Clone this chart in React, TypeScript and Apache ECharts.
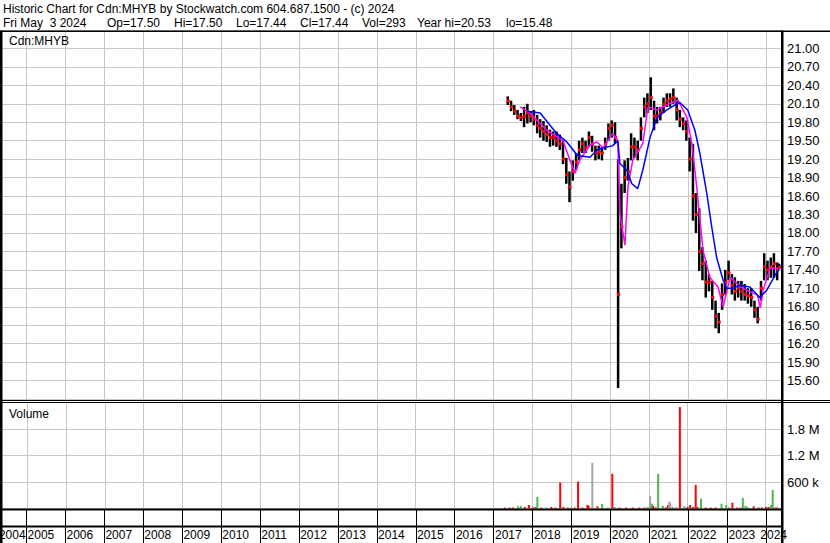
import React, { useEffect, useRef } from 'react';
import * as echarts from 'echarts';

const FONT = '"Liberation Sans", Arial, Helvetica, sans-serif';

const titleLine1 = 'Historic Chart for Cdn:MHYB by Stockwatch.com 604.687.1500 - (c) 2024';
const titleLine2Parts = ['Fri May  3 2024', 'Op=17.50', 'Hi=17.50', 'Lo=17.44', 'Cl=17.44', 'Vol=293', 'Year hi=20.53', 'lo=15.48'];
const pricePanelLabel = 'Cdn:MHYB';
const volumePanelLabel = 'Volume';

const xStart = '2004-05-20';
const xEnd = '2024-05-30';
const yearLabels = [2004, 2005, 2006, 2007, 2008, 2009, 2010, 2011, 2012, 2013, 2014, 2015, 2016, 2017, 2018, 2019, 2020, 2021, 2022, 2023, 2024];

const priceDates = [
  '2017-05-15', '2017-06-15', '2017-07-15', '2017-08-15', '2017-09-15', '2017-10-15', '2017-11-15', '2017-12-15',
  '2018-01-15', '2018-02-15', '2018-03-15', '2018-04-15', '2018-05-15', '2018-06-15', '2018-07-15', '2018-08-15', '2018-09-15', '2018-10-15', '2018-11-15', '2018-12-15',
  '2019-01-15', '2019-02-15', '2019-03-15', '2019-04-15', '2019-05-15', '2019-06-15', '2019-07-15', '2019-08-15', '2019-09-15', '2019-10-15', '2019-11-15', '2019-12-15',
  '2020-01-15', '2020-02-15', '2020-03-15', '2020-04-15', '2020-05-15', '2020-06-15', '2020-07-15', '2020-08-15', '2020-09-15', '2020-10-15', '2020-11-15', '2020-12-15',
  '2021-01-15', '2021-02-15', '2021-03-15', '2021-04-15', '2021-05-15', '2021-06-15', '2021-07-15', '2021-08-15', '2021-09-15', '2021-10-15', '2021-11-15', '2021-12-15',
  '2022-01-15', '2022-02-15', '2022-03-15', '2022-04-15', '2022-05-15', '2022-06-15', '2022-07-15', '2022-08-15', '2022-09-15', '2022-10-15', '2022-11-15', '2022-12-15',
  '2023-01-15', '2023-02-15', '2023-03-15', '2023-04-15', '2023-05-15', '2023-06-15', '2023-07-15', '2023-08-15', '2023-09-15', '2023-10-15', '2023-11-15', '2023-12-15',
  '2024-01-15', '2024-02-15', '2024-03-15', '2024-04-15', '2024-05-03',
];
const priceHigh = [
  20.22, 20.15, 20.08, 20.0, 19.95, 20.05, 20.1, 19.98,
  20.0, 19.92, 19.85, 19.82, 19.75, 19.68, 19.65, 19.65, 19.6, 19.5, 19.22, 19.0,
  19.18, 19.3, 19.5, 19.55, 19.5, 19.65, 19.58, 19.42, 19.42, 19.4, 19.55, 19.78,
  19.83, 19.8, 19.2, 18.8, 19.18, 19.22, 19.62, 19.55, 19.5, 19.88, 20.2, 20.27,
  20.53, 20.15, 20.05, 20.05, 20.2, 20.27, 20.27, 20.35, 20.2, 20.0, 19.88, 19.83,
  19.55, 19.45, 18.65, 18.4, 17.77, 17.55, 17.33, 17.22, 16.9, 16.7, 17.18, 17.4,
  17.55, 17.33, 17.28, 17.22, 17.22, 17.17, 17.1, 17.1, 16.9, 16.8, 17.22, 17.67,
  17.55, 17.6, 17.67, 17.52, 17.5,
];
const priceLow = [
  20.08, 19.98, 19.92, 19.85, 19.82, 19.72, 19.78, 19.8,
  19.75, 19.62, 19.55, 19.5, 19.48, 19.4, 19.42, 19.4, 19.35, 19.12, 18.8, 18.5,
  18.85, 19.02, 19.18, 19.3, 19.3, 19.4, 19.32, 19.18, 19.2, 19.18, 19.35, 19.5,
  19.55, 19.45, 15.48, 17.75, 18.65, 18.85, 19.18, 19.22, 19.18, 19.5, 19.88, 19.95,
  20.0, 19.67, 19.78, 19.83, 19.95, 20.05, 20.05, 20.1, 19.83, 19.72, 19.67, 19.5,
  19.0, 18.2, 18.0, 17.38, 17.23, 16.95, 17.05, 16.75, 16.45, 16.37, 16.75, 17.0,
  17.23, 17.0, 16.9, 16.95, 16.9, 16.9, 16.85, 16.8, 16.62, 16.53, 16.9, 17.23,
  17.23, 17.27, 17.27, 17.23, 17.44,
];
const priceClose = [
  20.15, 20.05, 19.98, 19.9, 19.88, 19.9, 19.95, 19.9,
  19.85, 19.75, 19.7, 19.65, 19.6, 19.55, 19.55, 19.5, 19.45, 19.2, 18.95, 18.75,
  19.0, 19.15, 19.35, 19.45, 19.38, 19.55, 19.45, 19.3, 19.32, 19.3, 19.45, 19.7,
  19.75, 19.55, 17.0, 18.1, 18.9, 19.0, 19.4, 19.4, 19.35, 19.7, 20.05, 20.1,
  20.2, 19.9, 19.9, 19.95, 20.1, 20.15, 20.18, 20.2, 20.0, 19.85, 19.78, 19.65,
  19.2, 18.6, 18.3, 17.7, 17.5, 17.2, 17.2, 16.95, 16.65, 16.55, 17.0, 17.2,
  17.35, 17.15, 17.05, 17.1, 17.05, 17.0, 16.98, 16.95, 16.75, 16.6, 17.1, 17.45,
  17.4, 17.45, 17.5, 17.4, 17.44,
];

const shortMaDates = [
  '2017-09-10', '2017-12-10', '2018-05-15', '2018-10-15', '2018-12-20', '2019-02-05', '2019-03-20', '2019-06-25',
  '2019-08-30', '2019-10-25', '2020-01-25', '2020-03-12', '2020-04-01', '2020-05-18', '2020-06-15', '2020-07-30',
  '2020-11-01', '2020-12-20', '2021-03-15', '2021-07-15', '2021-09-28', '2021-12-20', '2022-02-05', '2022-03-22',
  '2022-05-20', '2022-07-22', '2022-10-08', '2022-11-25', '2023-01-30', '2023-05-05', '2023-10-12', '2023-11-08',
  '2023-12-05', '2024-02-08', '2024-05-03',
];
const shortMaValues = [
  20.05, 19.95, 19.67, 19.5, 19.18, 18.97, 19.18, 19.43,
  19.48, 19.38, 19.62, 19.5, 18.32, 17.8, 18.75, 19.18,
  19.45, 20.05, 20.0, 20.11, 20.16, 19.88, 19.45, 18.75,
  17.72, 17.28, 17.12, 16.8, 17.28, 17.12, 16.99, 16.78,
  17.07, 17.43, 17.42,
];

const longMaDates = [
  '2017-11-15', '2018-03-15', '2018-08-15', '2018-11-20', '2019-03-01', '2019-06-25', '2019-08-30', '2019-10-25',
  '2020-01-25', '2020-03-12', '2020-04-01', '2020-06-05', '2020-07-22', '2020-09-15', '2020-11-01', '2021-01-08',
  '2021-03-15', '2021-06-15', '2021-08-28', '2021-10-15', '2021-12-28', '2022-03-05', '2022-04-20', '2022-06-25',
  '2022-08-10', '2022-09-25', '2022-11-25', '2022-12-28', '2023-02-25', '2023-05-01', '2023-08-03', '2023-11-03',
  '2024-01-08', '2024-04-08', '2024-05-03',
];
const longMaValues = [
  19.98, 19.95, 19.62, 19.48, 19.26, 19.23, 19.35, 19.38,
  19.42, 19.5, 19.13, 19.02, 18.8, 18.72, 19.02, 19.55,
  19.88, 20.0, 20.08, 20.12, 20.0, 19.67, 19.3, 18.64,
  18.1, 17.6, 17.23, 17.1, 17.1, 17.15, 17.12, 16.95,
  17.07, 17.35, 17.42,
];

const volDates = [
  '2017-04-20', '2017-06-05', '2017-07-05', '2017-08-22', '2017-09-17', '2017-10-24', '2017-12-02', '2018-01-10',
  '2018-02-03', '2018-02-20', '2018-03-28', '2018-05-15', '2018-07-01', '2018-08-10', '2018-09-23', '2018-10-23',
  '2018-12-02', '2019-01-05', '2019-02-06', '2019-03-10', '2019-04-22', '2019-06-06', '2019-06-18', '2019-07-22',
  '2019-09-08', '2019-10-22', '2019-12-14', '2020-01-26', '2020-02-17', '2020-04-01', '2020-06-03', '2020-08-04',
  '2020-10-05', '2020-11-24', '2020-12-25', '2021-01-15', '2021-01-30', '2021-02-13', '2021-03-10', '2021-04-01',
  '2021-05-15', '2021-06-13', '2021-07-02', '2021-07-14', '2021-07-23', '2021-08-13', '2021-09-20', '2021-10-22',
  '2021-12-02', '2022-01-02', '2022-01-27', '2022-02-24', '2022-03-20', '2022-04-05', '2022-05-09', '2022-06-22',
  '2022-08-07', '2022-09-23', '2022-11-18', '2023-01-01', '2023-01-26', '2023-02-28', '2023-04-12', '2023-05-15',
  '2023-06-06', '2023-07-01', '2023-07-19', '2023-09-16', '2023-11-02', '2023-12-02', '2024-01-11', '2024-02-04',
  '2024-02-28', '2024-03-13', '2024-04-07', '2024-04-26',
];
const volValues = [
  15000, 18000, 25000, 50000, 60000, 34000, 80000, 18000,
  34000, 262000, 15000, 18000, 34000, 12000, 588000, 34000,
  15000, 18000, 12000, 610000, 12000, 80000, 60000, 1036000,
  50000, 102000, 18000, 786000, 34000, 15000, 12000, 12000,
  12000, 15000, 34000, 285000, 110000, 60000, 25000, 786000,
  60000, 25000, 80000, 155000, 130000, 34000, 18000, 2296000,
  50000, 34000, 80000, 34000, 535000, 34000, 223000, 18000,
  12000, 12000, 109000, 80000, 18000, 132000, 15000, 18000,
  239000, 60000, 34000, 50000, 15000, 18000, 34000, 34000,
  80000, 421000, 18000, 12000,
];
// u = up day (green), d = down day (red), n = unchanged (grey)
const volDirs = [
  'd', 'd', 'd', 'u', 'u', 'd', 'd', 'd',
  'd', 'u', 'd', 'u', 'd', 'd', 'd', 'd',
  'd', 'u', 'd', 'd', 'd', 'd', 'd', 'n',
  'd', 'u', 'u', 'd', 'u', 'd', 'd', 'd',
  'd', 'd', 'u', 'n', 'u', 'd', 'd', 'u',
  'u', 'd', 'd', 'n', 'n', 'u', 'd', 'd',
  'u', 'd', 'd', 'd', 'd', 'd', 'u', 'd',
  'd', 'd', 'u', 'u', 'd', 'd', 'd', 'd',
  'u', 'u', 'u', 'd', 'd', 'd', 'd', 'd',
  'u', 'u', 'd', 'd',
];

const volTickValues = [600000, 1200000, 1800000];
const volTickLabels = ['600 k', '1.2 M', '1.8 M'];

const GRID_GRAY = '#c8c8c8';
const dirColor: Record<string, string> = { u: '#4cb84c', d: '#ff0000', n: '#a6a6a6' };
const titleLine2X = [3, 107, 174, 236, 300, 362, 417, 506];

function yearLineSeries(idx: number) {
  return {
    type: 'custom',
    xAxisIndex: idx,
    yAxisIndex: idx,
    clip: true,
    silent: true,
    z: 1,
    data: yearLabels.map((y) => [`${y}-01-01`, 0]),
    renderItem: (params: any, api: any) => {
      const cs = params.coordSys;
      const x = Math.round(api.coord([api.value(0), api.value(1)])[0]) + 0.5;
      return {
        type: 'line',
        shape: { x1: x, y1: cs.y, x2: x, y2: cs.y + cs.height },
        style: { stroke: GRID_GRAY, lineWidth: 1 },
      };
    },
  };
}

export default function App() {
  const ref = useRef<HTMLDivElement>(null);

  useEffect(() => {
    if (!ref.current) return;
    const chart = echarts.init(ref.current, undefined, { renderer: 'svg' });

    const priceData = priceDates.map((d, i) => [d, priceHigh[i], priceLow[i], priceClose[i]]);
    const volData = volDates.map((d, i) => ({
      value: [d, volValues[i]],
      itemStyle: { color: dirColor[volDirs[i]] },
    }));

    const textStyle = (text: string) => ({
      text,
      fill: '#000',
      fontSize: 12,
      fontFamily: FONT,
      verticalAlign: 'middle',
    });

    const option: any = {
      animation: false,
      backgroundColor: '#ffffff',
      grid: [
        { left: 2, top: 30, width: 780, height: 369 },
        { left: 2, top: 402.5, width: 780, height: 106 },
        { left: 2, top: 510, width: 780, height: 33 },
      ],
      xAxis: [0, 1, 2].map((i) => ({
        type: 'time',
        gridIndex: i,
        min: xStart,
        max: xEnd,
        show: false,
      })),
      yAxis: [
        {
          type: 'value',
          gridIndex: 0,
          position: 'right',
          min: 15.3,
          max: 21.3,
          interval: 0.3,
          axisLine: { show: false },
          axisTick: { show: false },
          axisLabel: {
            margin: 5,
            color: '#000',
            fontSize: 13,
            fontFamily: FONT,
            formatter: (v: number) => (v < 15.5 || v > 21.1 ? '' : v.toFixed(2)),
          },
          splitLine: { lineStyle: { color: GRID_GRAY, width: 1 } },
        },
        {
          type: 'value',
          gridIndex: 1,
          position: 'right',
          min: 0,
          max: 2400000,
          interval: 600000,
          axisLine: { show: false },
          axisTick: { show: false },
          axisLabel: {
            margin: 5,
            color: '#000',
            fontSize: 13,
            fontFamily: FONT,
            formatter: (v: number) => {
              const k = volTickValues.indexOf(Math.round(v));
              return k >= 0 ? volTickLabels[k] : '';
            },
          },
          splitLine: { lineStyle: { color: GRID_GRAY, width: 1 } },
        },
        { type: 'value', gridIndex: 2, min: 0, max: 1, show: false },
      ],
      series: [
        yearLineSeries(0),
        yearLineSeries(1),
        {
          type: 'custom',
          xAxisIndex: 2,
          yAxisIndex: 2,
          clip: false,
          silent: true,
          z: 5,
          data: yearLabels.map((y) => [`${y}-01-01`, 0, y]),
          renderItem: (params: any, api: any) => {
            const cs = params.coordSys;
            const right = cs.x + cs.width;
            const yr = api.value(2);
            const x0 = api.coord([`${yr}-01-01`, 0])[0];
            const x1 = api.coord([`${yr + 1}-01-01`, 0])[0];
            const xl = Math.round(x0) + 0.5;
            let label: { x: number; align: string };
            if (x0 < cs.x) label = { x: x1 - 0.5, align: 'right' };
            else if (x1 > right) label = { x: right + 5, align: 'right' };
            else label = { x: x0 + 1.5, align: 'left' };
            const children: any[] = [
              {
                type: 'text',
                x: label.x,
                y: cs.y + 24.5,
                style: {
                  text: String(yr),
                  fill: '#000',
                  fontSize: 12,
                  fontFamily: FONT,
                  align: label.align,
                  verticalAlign: 'middle',
                },
              },
            ];
            if (x0 >= cs.x) {
              children.push({
                type: 'line',
                shape: { x1: xl, y1: cs.y, x2: xl, y2: cs.y + cs.height },
                style: { stroke: '#000', lineWidth: 1 },
              });
            }
            return { type: 'group', children };
          },
        },
        {
          type: 'custom',
          xAxisIndex: 0,
          yAxisIndex: 0,
          clip: true,
          z: 3,
          encode: { x: 0, y: [1, 2, 3] },
          data: priceData,
          renderItem: (params: any, api: any) => {
            const hi = api.coord([api.value(0), api.value(1)]);
            const lo = api.coord([api.value(0), api.value(2)]);
            const cl = api.coord([api.value(0), api.value(3)]);
            return {
              type: 'group',
              children: [
                {
                  type: 'line',
                  shape: { x1: hi[0], y1: hi[1], x2: lo[0], y2: lo[1] },
                  style: { stroke: '#000', lineWidth: 2.5 },
                },
                {
                  type: 'rect',
                  shape: { x: cl[0] - 1, y: cl[1] - 1.5, width: 3, height: 3 },
                  style: { fill: '#ff0000' },
                },
              ],
            };
          },
        },
        {
          type: 'line',
          xAxisIndex: 0,
          yAxisIndex: 0,
          z: 4,
          showSymbol: false,
          silent: true,
          data: shortMaDates.map((d, i) => [d, shortMaValues[i]]),
          lineStyle: { color: '#ff00ff', width: 1.5 },
        },
        {
          type: 'line',
          xAxisIndex: 0,
          yAxisIndex: 0,
          z: 5,
          showSymbol: false,
          silent: true,
          data: longMaDates.map((d, i) => [d, longMaValues[i]]),
          lineStyle: { color: '#0000ff', width: 1.5 },
        },
        {
          type: 'bar',
          xAxisIndex: 1,
          yAxisIndex: 1,
          z: 3,
          barWidth: 2,
          barMinHeight: 1,
          silent: true,
          data: volData,
        },
      ],
      graphic: [
        { type: 'text', x: 3, y: 9, z: 100, style: textStyle(titleLine1) },
        ...titleLine2Parts.map((t, i) => ({ type: 'text', x: titleLine2X[i], y: 23, z: 100, style: textStyle(t) })),
        { type: 'text', x: 9, y: 40.5, z: 100, style: textStyle(pricePanelLabel) },
        { type: 'text', x: 9, y: 413.5, z: 100, style: textStyle(volumePanelLabel) },
        { type: 'line', z: 100, shape: { x1: 0, y1: 31.25, x2: 830, y2: 31.25 }, style: { stroke: '#000', lineWidth: 1.5 } },
        { type: 'line', z: 100, shape: { x1: 0, y1: 400.5, x2: 830, y2: 400.5 }, style: { stroke: '#000', lineWidth: 1 } },
        { type: 'line', z: 100, shape: { x1: 0, y1: 402.5, x2: 830, y2: 402.5 }, style: { stroke: '#000', lineWidth: 1 } },
        { type: 'line', z: 100, shape: { x1: 0, y1: 509.5, x2: 782, y2: 509.5 }, style: { stroke: '#000', lineWidth: 2 } },
        { type: 'line', z: 100, shape: { x1: 0, y1: 526.5, x2: 782, y2: 526.5 }, style: { stroke: '#000', lineWidth: 2 } },
        { type: 'rect', z: 100, shape: { x: 0, y: 30.5, width: 2.5, height: 513 }, style: { fill: '#000' } },
        { type: 'rect', z: 100, shape: { x: 781, y: 30.5, width: 2.5, height: 513 }, style: { fill: '#000' } },
      ],
    };

    chart.setOption(option);
    return () => chart.dispose();
  }, []);

  return (
    <div
      ref={ref}
      style={{ position: 'absolute', left: 0, top: 0, width: 830, height: 543, background: '#fff', whiteSpace: 'pre' }}
    />
  );
}
